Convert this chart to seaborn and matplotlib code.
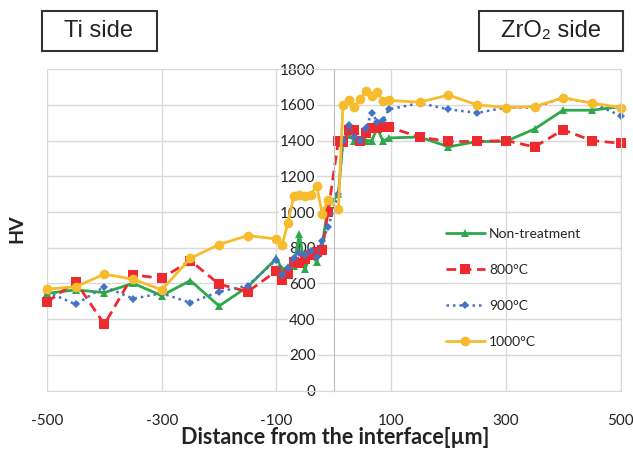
import numpy as np
import pandas as pd
import matplotlib
matplotlib.use('Agg')
import matplotlib.pyplot as plt
import seaborn as sns
from matplotlib.patches import Rectangle

# distance from interface [um]
x_left = [-500, -450, -400, -350, -300, -250, -200, -150, -100,
          -90, -80, -70, -60, -50, -40, -30, -20, -10]
x_right = [8, 16, 26, 36, 46, 56, 66, 76, 86, 96,
           150, 200, 250, 300, 350, 400, 450, 500]
distance = x_left + x_right

non_treatment = [545, 564, 549, 601, 532, 616, 474, 582, 740,
                 680, 690, 700, 875, 680, 770, 720, 820, 1030,
                 1100, 1400, 1430, 1400, 1400, 1400, 1400, 1470, 1395, 1415,
                 1420, 1365, 1395, 1395, 1465, 1570, 1570, 1590]
t800 = [496, 610, 371, 648, 629, 728, 596, 554, 670,
        620, 655, 720, 715, 735, 760, 775, 790, 1000,
        1400, 1390, 1460, 1460, 1400, 1445, 1470, 1470, 1475, 1475,
        1420, 1395, 1395, 1400, 1365, 1460, 1400, 1385]
t900 = [554, 483, 582, 515, 545, 492, 554, 588, 732,
        645, 685, 740, 770, 760, 780, 750, 840, 915,
        1100, 1400, 1490, 1420, 1395, 1470, 1555, 1505, 1515, 1575,
        1610, 1575, 1555, 1585, 1585, 1640, 1610, 1540]
t1000 = [568, 582, 652, 624, 564, 741, 818, 868, 849,
         816, 938, 1087, 1096, 1087, 1096, 1147, 990, 1068,
         1015, 1600, 1625, 1590, 1635, 1675, 1650, 1670, 1620, 1625,
         1615, 1655, 1600, 1585, 1590, 1640, 1610, 1585]

labels = ['Non-treatment', '800°C', '900°C', '1000°C']
xticks = [-500, -300, -100, 100, 300, 500]
yticks = list(range(0, 1801, 200))

sns.set_style('white')
plt.rcParams['font.family'] = ['Lato', 'DejaVu Sans']
plt.rcParams['axes.unicode_minus'] = False

fig = plt.figure(figsize=(6.33, 4.49), dpi=100)
ax = fig.add_axes([0.0743, 0.130, 0.906, 0.716])

styles = [
    dict(color='#2EA84A', marker='^', markersize=6, linestyle='-', linewidth=2),
    dict(color='#EE2A2F', marker='s', markersize=7.5, linestyle=(0, (3.5, 2)), linewidth=2),
    dict(color='#4472C4', marker='D', markersize=4.5, linestyle=(0, (1, 1.6)), linewidth=1.8),
    dict(color='#F7BB2E', marker='o', markersize=7, linestyle='-', linewidth=2),
]
for vals, lab, st in zip([non_treatment, t800, t900, t1000], labels, styles):
    df = pd.DataFrame({'distance': distance, 'hv': vals})
    sns.lineplot(data=df, x='distance', y='hv', ax=ax, label=lab,
                 estimator=None, sort=False, markeredgewidth=0, clip_on=False, **st)

ax.set_xlim(-500, 500)
ax.set_ylim(0, 1800)
ax.set_xticks(xticks)
ax.set_yticks(yticks)
ax.grid(True, color='#D9D9D9', linewidth=1)
for s in ['top', 'right', 'bottom']:
    ax.spines[s].set_color('#D9D9D9')
ax.spines['left'].set_position(('data', 0))
ax.spines['left'].set_color('#BFBFBF')
ax.tick_params(axis='both', length=0, labelsize=11, colors='#222222')
ax.tick_params(axis='y', pad=13)
ax.tick_params(axis='x', pad=17)
for lbl in ax.get_yticklabels():
    lbl.set_bbox(dict(facecolor='white', edgecolor='none', pad=1))
ax.set_xlabel('')
ax.set_ylabel('')

fig.text(335 / 633, 1 - 438 / 449, 'Distance from the interface[µm]',
         ha='center', va='center', fontsize=15.5, fontweight='bold', color='#222222')
fig.text(17 / 633, 1 - 229 / 449, 'HV', ha='center', va='center',
         rotation=90, fontsize=14, fontweight='bold', color='#222222')

leg = ax.legend(loc='upper left', bbox_to_anchor=(446 / 633, 1 - 228 / 449),
                bbox_transform=fig.transFigure, frameon=False, fontsize=10,
                handlelength=2.8, handletextpad=0.3, labelspacing=1.72,
                borderpad=0, borderaxespad=0)

# side label boxes
for (x0, x1), txt in [((41.5, 156.5), 'Ti side'), ((479, 623), 'ZrO₂ side')]:
    fig.patches.append(Rectangle((x0 / 633, 1 - 50.5 / 449), (x1 - x0) / 633, 39 / 449,
                                 transform=fig.transFigure, fill=False,
                                 edgecolor='#333333', linewidth=1.5))
    fig.text((x0 + x1) / 2 / 633, 1 - 31 / 449, txt, ha='center', va='center',
             fontsize=17, family=['Liberation Sans', 'DejaVu Sans'], color='#222222')

fig.savefig('out.png', dpi=100)
